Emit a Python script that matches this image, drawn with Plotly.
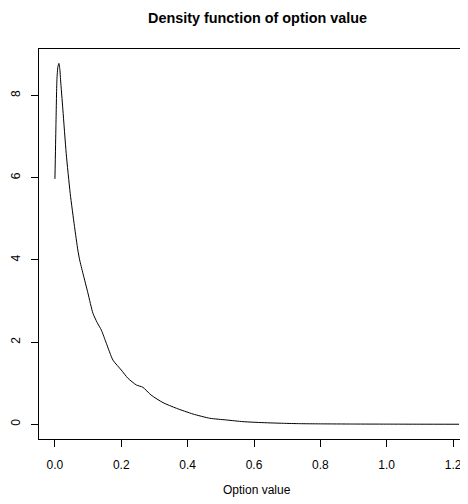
import plotly.graph_objects as go

option_value = [0.000, 0.003, 0.006, 0.009, 0.012, 0.015, 0.017, 0.024, 0.034, 0.046, 0.059, 0.069,
                0.0745, 0.0845, 0.0995, 0.1146, 0.127, 0.140, 0.155, 0.175, 0.200, 0.220, 0.2455,
                0.265, 0.290, 0.326, 0.366, 0.416, 0.467, 0.517, 0.567, 0.627, 0.688,
                0.738, 0.800, 0.900, 1.000, 1.100, 1.218]
density = [5.97, 7.24, 8.38, 8.70, 8.78, 8.62, 8.38, 7.65, 6.59, 5.62, 4.81, 4.24,
           4.00, 3.67, 3.19, 2.70, 2.48, 2.29, 1.97, 1.56, 1.32, 1.12, 0.956,
           0.90, 0.71, 0.526, 0.39, 0.25, 0.146, 0.105, 0.064, 0.040, 0.024,
           0.015, 0.010, 0.006, 0.004, 0.002, 0.001]

x_ticks = [0.0, 0.2, 0.4, 0.6, 0.8, 1.0, 1.2]
y_ticks = [0, 2, 4, 6, 8]
title_text = "Density function of option value"
xlab_text = "Option value"

# page body has an 8px margin; size the figure so the plot lands where the reference has it
OFF = 8
W, H = 468 - OFF, 504 - OFF
ml, mt = 39 - OFF, 49 - OFF
ph = 390
mb = H - mt - ph
mr = 0
pw = W - ml - mr

font_family = "Liberation Sans, Arial, Helvetica, sans-serif"

fig = go.Figure()
fig.add_trace(go.Scatter(x=option_value, y=density, mode="lines",
                         line=dict(color="black", width=1, shape="spline", smoothing=0.6),
                         hoverinfo="skip"))

fig.update_layout(
    width=W, height=H,
    margin=dict(l=ml, r=mr, t=mt, b=mb, pad=0, autoexpand=False),
    plot_bgcolor="white", paper_bgcolor="white",
    showlegend=False,
    font=dict(family=font_family, size=12, color="black"),
    xaxis=dict(range=[-0.048, 1.245], tickvals=x_ticks, tickformat=".1f", automargin=False,
               showgrid=False, zeroline=False, showline=True, mirror=True,
               linecolor="black", linewidth=1, ticks="outside", ticklen=7,
               tickcolor="black", tickwidth=1, ticklabelstandoff=8,
               tickfont=dict(size=12, family=font_family, color="black")),
    yaxis=dict(range=[-0.358, 9.13], tickvals=y_ticks, automargin=False,
               showgrid=False, zeroline=False, showline=True, mirror=False,
               linecolor="black", linewidth=1, ticks="outside", ticklen=7,
               tickcolor="black", tickwidth=1, tickangle=-90, ticklabelstandoff=6,
               tickfont=dict(size=12, family=font_family, color="black")),
    annotations=[
        dict(text="<b>" + title_text + "</b>", xref="paper", yref="paper",
             x=(257 - 39) / pw, y=1 + (49 - 18.3) / ph, xanchor="center", yanchor="middle",
             showarrow=False, font=dict(size=14.4, family=font_family, color="black")),
        dict(text=xlab_text, xref="paper", yref="paper",
             x=(257 - 39) / pw, y=-(490 - 439) / ph, xanchor="center", yanchor="middle",
             showarrow=False, font=dict(size=12, family=font_family, color="black")),
    ],
)

fig.write_html("out.html")
